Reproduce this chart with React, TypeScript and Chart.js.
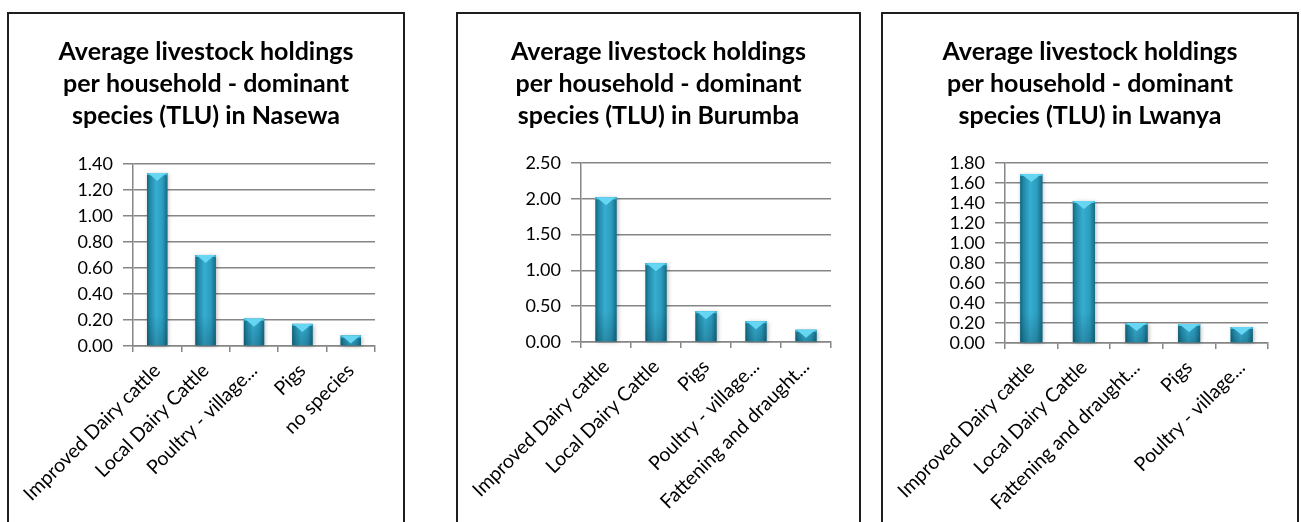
import React, { useEffect, useRef } from 'react';
import { Chart, registerables } from 'chart.js';

Chart.register(...registerables);

// ---- Data ----
const titleLines = ['Average livestock holdings', 'per household - dominant'];

const nasewaTitle = [...titleLines, 'species (TLU) in Nasewa'];
const nasewaCategories = ['Improved Dairy cattle', 'Local Dairy Cattle', 'Poultry - village...', 'Pigs', 'no species'];
const nasewaValues = [1.33, 0.70, 0.21, 0.17, 0.08];
const nasewaMax = 1.4;
const nasewaStep = 0.2;

const burumbaTitle = [...titleLines, 'species (TLU) in Burumba'];
const burumbaCategories = ['Improved Dairy cattle', 'Local Dairy Cattle', 'Pigs', 'Poultry - village...', 'Fattening and draught...'];
const burumbaValues = [2.02, 1.10, 0.43, 0.29, 0.17];
const burumbaMax = 2.5;
const burumbaStep = 0.5;

const lwanyaTitle = [...titleLines, 'species (TLU) in Lwanya'];
const lwanyaCategories = ['Improved Dairy cattle', 'Local Dairy Cattle', 'Fattening and draught...', 'Pigs', 'Poultry - village...'];
const lwanyaValues = [1.69, 1.42, 0.20, 0.19, 0.16];
const lwanyaMax = 1.8;
const lwanyaStep = 0.2;

// ---- Layout (page px) ----
const CANVAS_H = 520;
const PANEL_TOP = 12;
const BORDER = 2;

type PanelProps = {
  title: string[];
  categories: string[];
  values: number[];
  max: number;
  step: number;
  left: number;
  width: number;
  axisLeft: number;
  axisRight: number;
  plotTop: number;
  plotBottom: number;
};

const barPlugin = {
  id: 'bevelBars',
  afterDatasetsDraw(chart: any) {
    const ctx = chart.ctx as CanvasRenderingContext2D;
    const meta = chart.getDatasetMeta(0);
    meta.data.forEach((el: any) => {
      const { x, y, base, width } = el.getProps(['x', 'y', 'base', 'width'], true);
      const l = x - width / 2;
      const r = x + width / 2;
      const h = base - y;
      if (h <= 0) return;
      ctx.save();
      ctx.shadowColor = 'rgba(0,0,0,0.28)';
      ctx.shadowBlur = 4;
      ctx.shadowOffsetX = 1;
      ctx.shadowOffsetY = 1;
      const g = ctx.createLinearGradient(l, 0, r, 0);
      g.addColorStop(0, '#15657c');
      g.addColorStop(0.15, '#2189a8');
      g.addColorStop(0.45, '#37add0');
      g.addColorStop(0.75, '#2c9dbf');
      g.addColorStop(1, '#166b84');
      ctx.fillStyle = g;
      ctx.fillRect(l, y, width, h);
      ctx.shadowColor = 'transparent';
      const vg = ctx.createLinearGradient(0, y, 0, base);
      vg.addColorStop(0, 'rgba(0,30,45,0)');
      vg.addColorStop(Math.max(0, 1 - 30 / h), 'rgba(0,30,45,0)');
      vg.addColorStop(1, 'rgba(0,30,45,0.22)');
      ctx.fillStyle = vg;
      ctx.fillRect(l, y, width, h);
      const capH = Math.min(8, h);
      ctx.fillStyle = '#3fc0e2';
      ctx.fillRect(l, y, width, Math.min(2, h));
      ctx.beginPath();
      ctx.moveTo(l + 1, y);
      ctx.lineTo(r - 1, y);
      ctx.lineTo(x, y + capH);
      ctx.closePath();
      ctx.fillStyle = '#66d6f2';
      ctx.fill();
      ctx.restore();
    });
  },
};

function Panel(p: PanelProps) {
  const ref = useRef<HTMLCanvasElement | null>(null);
  const innerLeft = p.left + BORDER;
  const innerTop = PANEL_TOP + BORDER;
  const innerW = p.width - 2 * BORDER;

  useEffect(() => {
    if (!ref.current) return;
    const axisW = p.axisLeft - innerLeft;
    const padRight = innerW - (p.axisRight - innerLeft);
    const plotTopC = p.plotTop - innerTop;
    const plotBottomC = p.plotBottom - innerTop;
    const lineH = 32;
    const titleTopPad = 37.5 - lineH / 2;
    const titleBottomPad = plotTopC - titleTopPad - lineH * p.title.length;
    const chart = new Chart(ref.current, {
      type: 'bar',
      data: {
        labels: p.categories,
        datasets: [
          {
            data: p.values,
            backgroundColor: '#2a9bbb',
            borderWidth: 0,
            barPercentage: 0.42,
            categoryPercentage: 1,
          },
        ],
      },
      plugins: [barPlugin],
      options: {
        responsive: false,
        animation: false,
        layout: { padding: 0 },
        plugins: {
          legend: { display: false },
          tooltip: { enabled: false },
          title: {
            display: true,
            text: p.title,
            color: '#000',
            font: { family: 'Lato', size: 25, weight: 'bold', lineHeight: lineH / 25 },
            padding: { top: titleTopPad, bottom: titleBottomPad },
          },
        },
        scales: {
          x: {
            grid: { drawOnChartArea: false, drawTicks: true, tickLength: 6, color: '#868686', lineWidth: 1.5 },
            border: { color: '#868686', width: 1.5 },
            ticks: {
              autoSkip: false,
              minRotation: 45,
              maxRotation: 45,
              color: '#000',
              font: { family: 'Lato', size: 19.5 },
              padding: 7,
            },
            afterFit: (s: any) => {
              s.height = CANVAS_H - plotBottomC;
              s.paddingLeft = 0;
              s.paddingRight = 0;
            },
          },
          y: {
            min: 0,
            max: p.max,
            ticks: {
              stepSize: p.step,
              autoSkip: false,
              color: '#000',
              font: { family: 'Lato', size: 18 },
              padding: 10,
              callback: (v: any) => Number(v).toFixed(2),
            },
            grid: { color: '#868686', lineWidth: 1.5, tickLength: 10 },
            border: { color: '#868686', width: 1.5 },
            afterFit: (s: any) => {
              s.width = axisW;
            },
          },
          spacer: {
            type: 'linear',
            axis: 'y',
            position: 'right',
            display: true,
            ticks: { display: false },
            grid: { display: false, drawTicks: false },
            border: { display: false },
            afterFit: (s: any) => {
              s.width = padRight;
            },
          },
        },
      } as any,
    });
    return () => chart.destroy();
  }, []);

  return (
    <div
      style={{
        position: 'absolute',
        left: p.left,
        top: PANEL_TOP,
        width: p.width,
        height: 540,
        boxSizing: 'border-box',
        border: `${BORDER}px solid #1e1e1e`,
        background: '#fff',
      }}
    >
      <canvas
        ref={ref}
        width={innerW}
        height={CANVAS_H}
        style={{ position: 'absolute', left: 0, top: 0, width: innerW, height: CANVAS_H }}
      />
    </div>
  );
}

export default function App() {
  return (
    <div style={{ position: 'fixed', inset: 0, overflow: 'hidden', background: '#fff' }}>
      <Panel
        title={nasewaTitle}
        categories={nasewaCategories}
        values={nasewaValues}
        max={nasewaMax}
        step={nasewaStep}
        left={7}
        width={398}
        axisLeft={133}
        axisRight={375}
        plotTop={164}
        plotBottom={346}
      />
      <Panel
        title={burumbaTitle}
        categories={burumbaCategories}
        values={burumbaValues}
        max={burumbaMax}
        step={burumbaStep}
        left={456}
        width={405}
        axisLeft={581}
        axisRight={831}
        plotTop={163}
        plotBottom={342}
      />
      <Panel
        title={lwanyaTitle}
        categories={lwanyaCategories}
        values={lwanyaValues}
        max={lwanyaMax}
        step={lwanyaStep}
        left={881}
        width={418}
        axisLeft={1005}
        axisRight={1268}
        plotTop={163}
        plotBottom={343}
      />
    </div>
  );
}
